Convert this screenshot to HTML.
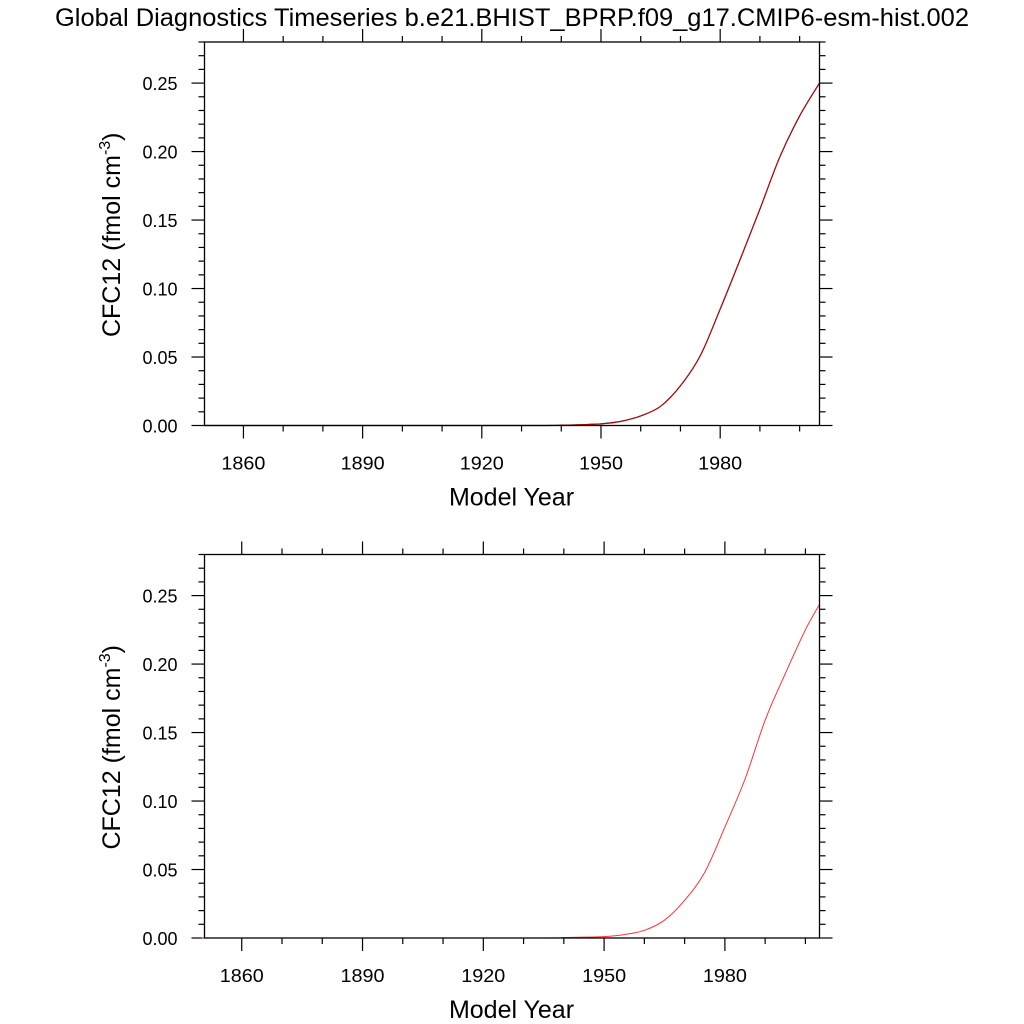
<!DOCTYPE html>
<html><head><meta charset="utf-8"><style>
html,body{margin:0;padding:0;background:#fff;width:1024px;height:1024px;overflow:hidden}
svg{display:block}
text{font-family:"Liberation Sans",Arial,sans-serif;fill:#000}
</style></head><body>
<svg id="chart" width="1024" height="1024" viewBox="0 0 1024 1024">
<text x="512" y="26" font-size="25" text-anchor="middle" textLength="914" lengthAdjust="spacingAndGlyphs">Global Diagnostics Timeseries b.e21.BHIST_BPRP.f09_g17.CMIP6-esm-hist.002</text>
</svg>
<script>
const xTickLabels = [1860, 1890, 1920, 1950, 1980];
const yTickLabels = [0, 0.05, 0.10, 0.15, 0.20, 0.25];
const topYears = [1850, 1930, 1940, 1945, 1950, 1955, 1960, 1965, 1970, 1975, 1980, 1985, 1990, 1995, 2000, 2005];
const topValues = [0, 0, 0.0003, 0.0006, 0.0012, 0.003, 0.007, 0.014, 0.029, 0.051, 0.085, 0.121, 0.158, 0.196, 0.226, 0.250];
const bottomYears = [1850, 1930, 1940, 1945, 1950, 1955, 1960, 1965, 1970, 1975, 1980, 1985, 1990, 1995, 2000, 2003.5];
const bottomValues = [0, 0, 0.0003, 0.0006, 0.001, 0.0025, 0.0056, 0.013, 0.0275, 0.048, 0.081, 0.116, 0.159, 0.193, 0.225, 0.2435];

const NS = 'http://www.w3.org/2000/svg';
const svg = document.getElementById('chart');
function mk(tag, attrs, parent) {
  const e = document.createElementNS(NS, tag);
  for (const k in attrs) e.setAttribute(k, attrs[k]);
  (parent || svg).appendChild(e);
  return e;
}
function smoothPath(pts) {
  let d = 'M' + pts[0][0].toFixed(2) + ',' + pts[0][1].toFixed(2);
  for (let i = 0; i < pts.length - 1; i++) {
    const p0 = pts[Math.max(0, i - 1)], p1 = pts[i], p2 = pts[i + 1], p3 = pts[Math.min(pts.length - 1, i + 2)];
    const c1x = p1[0] + (p2[0] - p0[0]) / 6, c1y = p1[1] + (p2[1] - p0[1]) / 6;
    const c2x = p2[0] - (p3[0] - p1[0]) / 6, c2y = p2[1] - (p3[1] - p1[1]) / 6;
    d += 'C' + [c1x, c1y, c2x, c2y, p2[0], p2[1]].map(v => v.toFixed(2)).join(',');
  }
  return d;
}

function panel(prefix, top, xmin, xmax, series) {
  const L = 204.5, R = 819.5, T = top, B = top + 383.5;
  const ymin = 0, ymax = 0.28;
  const xs = v => L + (v - xmin) / (xmax - xmin) * (R - L);
  const ys = v => B - (v - ymin) / (ymax - ymin) * (B - T);
  const g = mk('g', {});
  
  
  for (let yr = 1860; yr <= xmax; yr += 10) {
    const major = (yr - 1860) % 30 === 0;
    const len = major ? 13 : 6;
    const x = xs(yr);
    mk('line', {x1: x, x2: x, y1: B, y2: B + len, stroke: '#000', 'stroke-width': 1.2}, g);
    mk('line', {x1: x, x2: x, y1: T, y2: T - len, stroke: '#000', 'stroke-width': 1.2}, g);
  }
  for (let i = 0; i <= 28; i++) {
    const v = i / 100;
    const major = i % 5 === 0;
    const len = major ? 13 : 6;
    const y = ys(v);
    mk('line', {x1: L, x2: L - len, y1: y, y2: y, stroke: '#000', 'stroke-width': 1.2}, g);
    mk('line', {x1: R, x2: R + len, y1: y, y2: y, stroke: '#000', 'stroke-width': 1.2}, g);
  }
  xTickLabels.forEach(v => {
    const t = mk('text', {x: xs(v), y: B + 44, 'font-size': 18, 'text-anchor': 'middle', textLength: 44, lengthAdjust: 'spacingAndGlyphs'}, g);
    
    
    t.textContent = v;
  });
  yTickLabels.forEach(v => {
    const t = mk('text', {x: L - 27, y: ys(v) + 7, 'font-size': 18, 'text-anchor': 'end'}, g);
    
    
    t.textContent = v.toFixed(2);
  });
  const xt = mk('text', {x: 511.5, y: B + 80, 'font-size': 25, 'text-anchor': 'middle'}, g);
  
  
  xt.textContent = 'Model Year';
  const cy = (T + B) / 2 + 1;
  const yt = mk('text', {x: 0, y: 0, 'font-size': 25, 'text-anchor': 'middle', transform: `translate(120,${cy}) rotate(-90)`}, g);
  
  
  yt.innerHTML = 'CFC12 (fmol cm<tspan font-size="16" dy="-10">-3</tspan><tspan dy="10">)</tspan>';
  series.forEach(s => {
    const pts = s.years.map((yr, i) => [xs(yr), ys(s.vals[i])]);
    const p = mk('path', {d: smoothPath(pts), fill: 'none', stroke: s.color, 'stroke-width': s.w}, g);
    
    
  });
  const fr = mk('rect', {x: L, y: T, width: R - L, height: B - T, fill: 'none', stroke: '#000', 'stroke-width': 1.3}, g);
  
  
}

panel('top', 42, 1850.2, 2005, [
  {years: topYears, vals: topValues, color: '#000', w: 1.2, name: 'top-series-black'},
  {years: topYears, vals: topValues, color: '#d00', w: 0.9, name: 'top-series-red'}
]);
panel('bottom', 554.5, 1850.75, 2003.5, [
  {years: bottomYears, vals: bottomValues, color: '#f33', w: 1, name: 'bottom-series-red'}
]);
</script>
</body></html>
